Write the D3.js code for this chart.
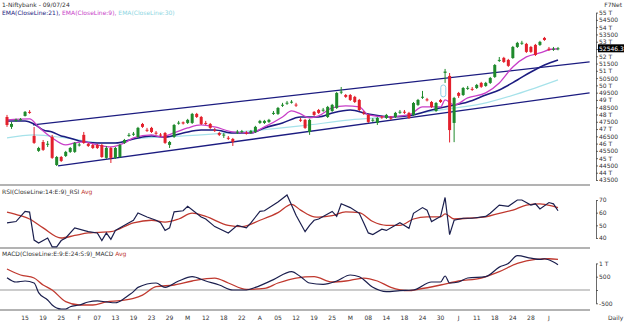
<!DOCTYPE html>
<html>
<head>
<meta charset="utf-8">
<script src="https://cdn.jsdelivr.net/npm/d3@7"></script>
<style>
	body { margin: 0; background: #fff; }
	text { font-family: "DejaVu Sans", Verdana, sans-serif; }
</style>
</head>
<body>
<div class="c-svg" style="width:624px;height:323px;"></div>
<script>
//DATA
//-------------------------------------------------------------------------

//daily candles [open, high, low, close]
const ohlc = [
	[47830,47970,47150,47280],[47150,47490,47010,47350],[47560,47720,47500,47650],[47640,47760,47580,47680],
	[47900,48240,47860,48180],[48180,48300,48050,48150],[46530,47140,45980,46050],[45500,45780,45430,45700],
	[46110,46250,45500,45570],[45950,46180,45770,45990],[46460,46600,44950,45020],[44530,45150,44460,45080],
	[45080,45150,44740,44810],[45150,45500,45080,45430],[45430,45770,45360,45700],[45430,46110,45360,46050],
	[45900,46050,45800,45940],[46600,46800,45980,46050],[45980,46050,45770,45840],[45900,45980,45630,45700],
	[45900,45980,45630,45700],[45900,45980,45020,45080],[45020,45840,44950,45700],[45700,45770,44670,45020],
	[45020,45770,44950,45700],[45080,45980,45020,45900],[46050,46320,45980,46250],[46560,46730,46460,46600],
	[46640,46800,46530,46680],[46460,47150,46390,47080],[47350,47420,47080,47150],[46950,47080,46800,46920],
	[47080,47150,46730,46800],[46750,46870,46600,46720],[46620,46730,46460,46580],[46730,46800,45980,46050],
	[45910,46180,45700,46110],[46460,47350,46390,47280],[47400,47560,47300,47440],[47460,47520,47310,47380],
	[47420,47700,47350,47630],[47420,48110,47350,48040],[48040,48110,47760,47830],[47830,47900,47280,47350],
	[47420,47560,47280,47400],[47350,47420,47010,47080],[46950,47080,46800,46920],[46730,46800,46520,46600],
	[46560,46730,46390,46620],[46400,46520,46250,46380],[46320,46390,45840,46110],[46800,46940,46660,46820],
	[46780,46940,46730,46850],[46740,46870,46620,46720],[46730,46940,46660,46870],[46800,47220,46730,47150],
	[47420,47630,47350,47560],[47420,47630,47350,47560],[47490,47700,47420,47630],[48080,48240,47970,48110],
	[48040,48520,47970,48450],[48640,48800,48520,48670],[48780,48930,48660,48810],[48820,48990,48750,48880],
	[48680,48800,48520,48620],[47640,47760,47490,47610],[47630,47700,47010,47080],[46800,47700,46600,47630],
	[48180,48240,47900,47970],[48310,48380,48040,48110],[48300,48450,48180,48330],[47830,48590,47760,48520],
	[48240,48730,48180,48660],[48450,49550,48380,49480],[49530,49890,49400,49570],[49340,49410,49140,49210],
	[49340,49410,48930,49000],[49210,49280,48790,48860],[49000,49070,48240,48310],[48130,48240,47970,48080],
	[47970,48040,47420,47490],[47620,47760,47490,47640],[47420,47830,47280,47760],[47860,47900,47700,47800],
	[47760,48040,47690,47970],[47780,47900,47630,47760],[47830,48180,47760,48110],[48160,48310,48040,48190],
	[48190,48310,48040,48170],[48110,48180,47690,47760],[47970,48860,47900,48790],[48660,49070,48590,49000],
	[49190,49620,49070,49220],[49040,49140,48900,48970],[48860,48930,48450,48520],[48240,48860,48180,48790],
	[49000,49070,48790,48860],[50860,51130,50170,50950],[50650,50850,46080,46930],[47420,49210,46100,49140],
	[49480,49550,49140,49280],[49340,49890,49270,49820],[49800,49960,49690,49830],[49760,49890,49620,49740],
	[49820,50100,49750,50030],[50170,50240,49830,49900],[49960,50240,49900,50170],[50170,50580,50100,50510],
	[50580,51470,50510,51400],[51720,51950,51610,51750],[51890,51960,51540,51610],[51750,51820,51270,51340],
	[51880,52710,51820,52640],[52640,52990,52570,52920],[52900,53060,52780,52930],[52850,52920,52230,52300],
	[52640,52710,52230,52300],[52780,52850,52020,52090],[52780,53060,52710,52990],[53260,53330,53060,53120],
	[52520,52640,52370,52480],[52480,52640,52370,52520],[52520,52640,52410,52546.3]
];

//moving averages [candle index, value]
const ema21 = [[0,47557],[4,47557],[6,47351],[8,46939],[10,46802],[12,46527],[13,46458],[16,46183],[20,46046],
	[24,46046],[28,46321],[32,46527],[35,46458],[39,46733],[43,46939],[46,46939],[50,46733],[54,46733],[57,47076],
	[61,47420],[65,47832],[69,47832],[72,48107],[76,48313],[80,48038],[85,47832],[90,47970],[94,48313],[98,48588],
	[102,48863],[106,49344],[109,49687],[113,50374],[116,50924],[119,51405],[122,51748]];
const ema9 = [[0,47626],[5,47695],[7,47145],[10,46389],[13,45909],[15,46046],[17,46115],[20,45909],[23,45771],
	[26,46046],[28,46389],[32,46595],[34,46458],[37,46733],[40,47076],[43,47282],[46,47145],[50,46802],[54,46733],
	[57,47145],[61,47832],[63,48244],[65,48038],[67,47763],[69,47900],[72,48450],[75,48588],[78,48519],[80,47970],
	[84,47832],[89,47970],[92,48519],[96,48519],[97,49000],[99,48656],[102,49137],[106,49481],[109,50168],
	[112,51267],[115,51954],[118,52229],[121,52500],[122,52500]];
const ema30 = [[0,46389],[6,46595],[13,46389],[21,46046],[24,46046],[28,46321],[35,46458],[43,46595],[54,46870],
	[65,47214],[76,47626],[87,47901],[96,48313],[105,48725],[113,49412],[122,50374]];

//trend channel [candle index, price]
const channelUpper = [[5.75,47283],[129,51610]];
const channelLower = [[11.3,44466],[129,49481]];

//gap highlight [candle index, low, high]
const gapBox = [96.6, 49210, 50030];

//RSI [candle index, value]
const rsi = [[0,52],[2,53],[4,61],[5,60.5],[6,38.4],[7,36],[9,40],[10,33],[11,33],[12,38],[13,40],[15,48],[18,45],
	[20,44],[21,38],[22,44],[23,39],[24,46],[27,52],[28,54],[29,59.7],[31,56.6],[33,54],[34,52],[35,46],[36,48],
	[37,60.7],[39,61.5],[40,65],[43,56.6],[44,55],[46,49],[49,44],[51,50],[53,48],[54,52],[56,61],[57,61.5],
	[60,68.5],[62,74],[63,66],[64,58],[66,45],[67,50],[68,54],[69,55],[72,61],[73,57],[74,67],[76,64],[78,59.5],
	[79,51.8],[80,44],[81,42.7],[83,47],[84,46],[86,50],[87,52],[89,47.6],[90,59.5],[92,64],[93,62],[94,53],
	[96,57],[97,72],[98,42.7],[99,54],[101,55.6],[103,55.6],[106,57],[107,59.5],[109,66],[111,65],[113,70],
	[114,70],[116,66],[117,67],[118,63],[120,68],[121,67],[122,61.5]];
const rsiAvg = [[0,60.5],[3,57.6],[5,55],[8,48],[12,40],[15,42],[18,44],[23,45],[28,52],[32,54],[35,52.5],
	[38,55],[41,59.6],[44,57],[49,50],[52,49],[56,54],[60,60],[63,66.6],[65,62],[68,56.7],[69,56.5],[72,57.6],
	[75,60.7],[78,60],[81,53],[84,50],[87,50],[90,55],[93,56.7],[96,56.7],[97,59],[99,55],[102,55.6],[106,56.7],
	[109,59.5],[112,62],[115,66],[118,67],[121,65],[122,64]];

//MACD [candle index, value]
const macd = [[0,463],[2,300],[4,338],[6,263],[7,-100],[9,-376],[10,-564],[12,-714],[13,-714],[14,-630],[16,-564],
	[18,-450],[20,-410],[22,-450],[24,-480],[26,-313],[27,-190],[28,-60],[29,100],[33,263],[35,100],[38,338],
	[41,500],[44,338],[47,188],[50,0],[53,0],[55,100],[59,390],[63,690],[65,500],[67,263],[70,213],[73,338],
	[76,564],[78,500],[81,100],[84,-63],[87,-25],[90,0],[94,300],[96,300],[97,526],[98,263],[100,300],[102,450],
	[106,500],[109,860],[111,1000],[113,1290],[116,1200],[118,1150],[119,1175],[121,1050],[122,950]];
const macdAvg = [[0,790],[3,564],[6,450],[8,188],[10,0],[13,-440],[16,-564],[19,-564],[22,-450],[25,-400],
	[28,-313],[30,-190],[33,125],[37,188],[41,338],[46,450],[49,263],[53,25],[57,60],[60,263],[64,450],[68,500],
	[72,300],[75,338],[79,450],[82,338],[85,100],[89,-25],[91,25],[96,188],[100,338],[105,450],[109,690],
	[113,1000],[117,1150],[120,1175],[122,1150]];

//x axis labels, one every 4 sessions from index 4
const dateLabels = ["15","19","25","F","07","13","19","23","29","M","12","18","22","A","05","12","19","25","M",
	"08","14","18","24","30","J","11","18","24","28","J"];

const priceTicks = d3.range(43500, 55001, 500);
const rsiTicks = [40, 50, 60, 70];
const macdTicks = [-500, 0, 500, 1000];


//INITIALISATION
//-------------------------------------------------------------------------

const opts = {
	container: ".c-svg",
	width: 624,
	height: 323,
	axisX: 596,
	plotRight: 590
};

const col = {
	up: "#1f8a2c",
	down: "#e3202c",
	navy: "#1c1c80",
	magenta: "#c83ec8",
	cyan: "#a6e2ea",
	line: "#1b1f4e",
	avg: "#c0392f",
	grid: "#9a9a9a",
	text: "#333"
};

const svg = d3.select(opts.container)
	.append("svg")
	.attr("width", opts.width)
	.attr("height", opts.height);

svg.append("rect").attr("width", opts.width).attr("height", opts.height).attr("fill", "#fff");

//scales
const x = d3.scaleLinear().domain([0, ohlc.length - 1]).range([7, 558]);
const yP = d3.scaleLinear().domain([43500, 55000]).range([180, 12.6]);
const yR = d3.scaleLinear().domain([40, 70]).range([238, 200]);
const yM = d3.scaleLinear().domain([-500, 1000]).range([303.3, 263.4]);

const fmtPrice = (v) => v % 1000 === 0 ? (v / 1000) + " T" : String(v);
const last = ohlc[ohlc.length - 1][3];


//PANEL FRAMES
//-------------------------------------------------------------------------

[185, 248, 310].forEach((yy) => {
	svg.append("line")
		.attr("x1", 0).attr("x2", opts.plotRight)
		.attr("y1", yy).attr("y2", yy)
		.attr("stroke", col.grid).attr("stroke-width", 1.6);
});

//macd zero line
svg.append("line")
	.attr("x1", 0).attr("x2", opts.plotRight)
	.attr("y1", yM(0)).attr("y2", yM(0))
	.attr("stroke", col.grid).attr("stroke-width", 1.2);


//MAIN PANEL
//-------------------------------------------------------------------------

const lineP = d3.line().x((d) => x(d[0])).y((d) => yP(d[1]));
const smoothP = d3.line().x((d) => x(d[0])).y((d) => yP(d[1])).curve(d3.curveMonotoneX);

[channelUpper, channelLower].forEach((c) => {
	svg.append("path").attr("d", lineP(c))
		.attr("fill", "none").attr("stroke", col.navy).attr("stroke-width", 1.3);
});

svg.append("path").attr("d", smoothP(ema30))
	.attr("fill", "none").attr("stroke", col.cyan).attr("stroke-width", 1.2);
svg.append("path").attr("d", smoothP(ema21))
	.attr("fill", "none").attr("stroke", col.navy).attr("stroke-width", 1.6);
svg.append("path").attr("d", smoothP(ema9))
	.attr("fill", "none").attr("stroke", col.magenta).attr("stroke-width", 1.3);

//gap highlight
svg.append("rect")
	.attr("x", x(gapBox[0]) - 2.5).attr("width", 5)
	.attr("y", yP(gapBox[2])).attr("height", yP(gapBox[1]) - yP(gapBox[2]))
	.attr("rx", 2.5)
	.attr("fill", "none").attr("stroke", "#8fd0e6").attr("stroke-width", 1);

//candles
const candle = svg.append("g").selectAll("g")
	.data(ohlc)
	.join("g")
	.attr("stroke", (d) => d[3] >= d[0] ? col.up : col.down)
	.attr("fill", (d) => d[3] >= d[0] ? col.up : col.down);

candle.append("line")
	.attr("x1", (d, i) => x(i)).attr("x2", (d, i) => x(i))
	.attr("y1", (d) => yP(d[1])).attr("y2", (d) => yP(d[2]))
	.attr("stroke-width", 1);

candle.append("rect")
	.attr("x", (d, i) => x(i) - 1.5)
	.attr("width", 3)
	.attr("y", (d) => yP(Math.max(d[0], d[3])))
	.attr("height", (d) => Math.max(1, yP(Math.min(d[0], d[3])) - yP(Math.max(d[0], d[3]))))
	.attr("stroke", "none");


//RSI / MACD PANELS
//-------------------------------------------------------------------------

const lineR = d3.line().x((d) => x(d[0])).y((d) => yR(d[1]));
const smoothR = d3.line().x((d) => x(d[0])).y((d) => yR(d[1])).curve(d3.curveMonotoneX);
const lineM = d3.line().x((d) => x(d[0])).y((d) => yM(d[1])).curve(d3.curveMonotoneX);

svg.append("path").attr("d", smoothR(rsiAvg))
	.attr("fill", "none").attr("stroke", col.avg).attr("stroke-width", 1.3);
svg.append("path").attr("d", lineR(rsi))
	.attr("fill", "none").attr("stroke", col.line).attr("stroke-width", 1.2);

svg.append("path").attr("d", lineM(macdAvg))
	.attr("fill", "none").attr("stroke", col.avg).attr("stroke-width", 1.3);
svg.append("path").attr("d", lineM(macd))
	.attr("fill", "none").attr("stroke", col.line).attr("stroke-width", 1.2);


//AXES
//-------------------------------------------------------------------------

function rightAxis(scale, ticks, fmt) {
	const g = svg.append("g")
		.attr("transform", `translate(${opts.axisX} 0)`)
		.call(d3.axisRight(scale).tickValues(ticks).tickFormat(fmt).tickSize(2).tickPadding(1).tickSizeOuter(0));
	g.selectAll("path, line").attr("stroke", "#444").attr("stroke-width", 0.8);
	g.selectAll("text").attr("font-size", 6).attr("fill", col.text).attr("font-family", "DejaVu Sans");
	return g;
}

//price label hidden behind the last price box
rightAxis(yP, priceTicks, (d) => Math.abs(yP(d) - yP(last)) < 5 ? "" : fmtPrice(d));
rightAxis(yR, rsiTicks, (d) => d);
rightAxis(yM, macdTicks, (d) => d === 0 ? "" : fmtPrice(d));

//last price marker
svg.append("rect")
	.attr("x", opts.axisX + 2).attr("y", yP(last) - 4)
	.attr("width", 26).attr("height", 8).attr("fill", "#000");
svg.append("text")
	.attr("x", opts.axisX + 3).attr("y", yP(last) + 2.2)
	.attr("font-size", 6).attr("fill", "#fff")
	.text(d3.format(".1f")(last));

//date labels
svg.append("g").selectAll("text")
	.data(dateLabels)
	.join("text")
	.attr("x", (d, i) => x(4 + i * 4))
	.attr("y", 320)
	.attr("text-anchor", "middle")
	.attr("font-size", 6)
	.attr("fill", col.text)
	.text((d) => d);

svg.append("text").attr("x", 608).attr("y", 320).attr("font-size", 6).attr("fill", col.text).text("Daily");
svg.append("text").attr("x", 622).attr("y", 7).attr("text-anchor", "end")
	.attr("font-size", 6).attr("fill", col.text).text("F7Net");


//LEGENDS
//-------------------------------------------------------------------------

svg.append("text").attr("x", 2).attr("y", 7).attr("font-size", 6).attr("fill", col.text)
	.text("1-Niftybank - 09/07/24");

const ema = svg.append("text").attr("x", 2).attr("y", 15).attr("font-size", 6);
ema.append("tspan").attr("fill", col.navy).text("EMA(CloseLine:21), ");
ema.append("tspan").attr("fill", col.magenta).text("EMA(CloseLine:9), ");
ema.append("tspan").attr("fill", "#8ed6e2").text("EMA(CloseLine:30)");

const rl = svg.append("text").attr("x", 2).attr("y", 194).attr("font-size", 6);
rl.append("tspan").attr("fill", col.text).text("RSI(CloseLine:14:E:9)_RSI ");
rl.append("tspan").attr("fill", col.avg).text("Avg");

const ml = svg.append("text").attr("x", 2).attr("y", 256).attr("font-size", 6);
ml.append("tspan").attr("fill", col.text).text("MACD(CloseLine:E:9:E:24:S:9)_MACD ");
ml.append("tspan").attr("fill", col.avg).text("Avg");
</script>
</body>
</html>
